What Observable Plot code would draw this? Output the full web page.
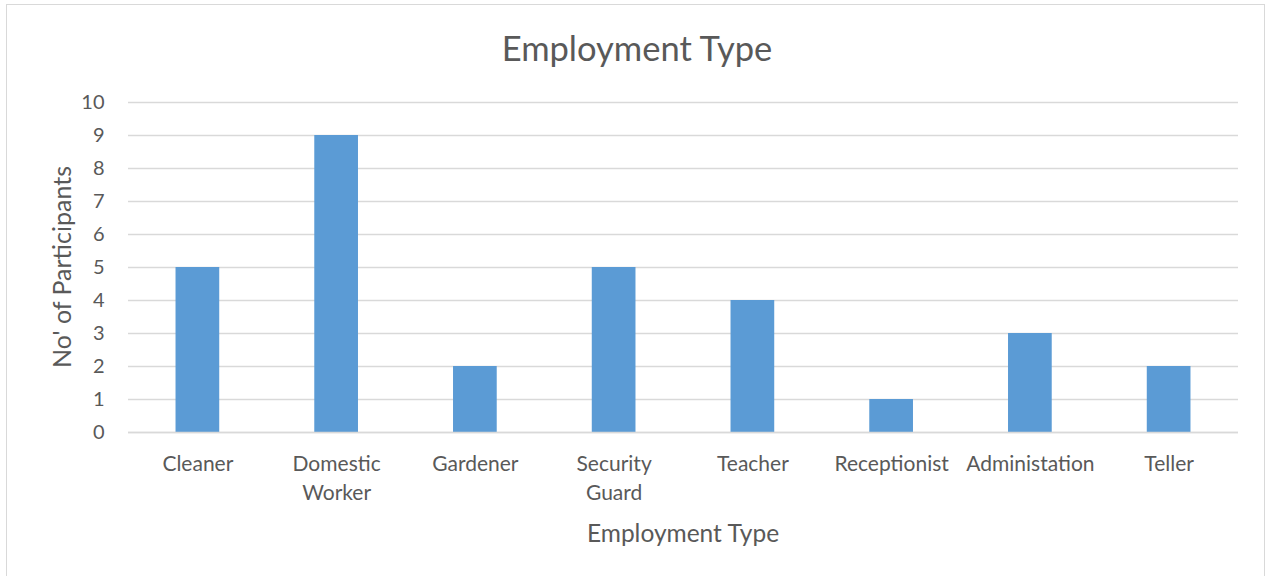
<!DOCTYPE html>
<html>
<head>
<meta charset="utf-8">
<script src="https://cdn.jsdelivr.net/npm/d3@7"></script>
<script src="https://cdn.jsdelivr.net/npm/@observablehq/plot@0.6"></script>
<style>
  html, body { margin: 0; padding: 0; background: #fff; }
  #wrap { position: relative; width: 1268px; height: 576px; font-family: Lato, "Noto Sans", sans-serif; color: #595959; }
  #frame { position: absolute; left: 6px; top: 4px; width: 1259px; height: 580px; border: 1.5px solid #D9D9D9; box-sizing: border-box; }
  #title { position: absolute; left: 0; width: 1274px; top: 28px; text-align: center; font-size: 34.5px; line-height: 40px; }
  #ylab { position: absolute; left: 61px; top: 267px; transform: translate(-50%, -50%) rotate(-90deg); font-size: 25px; white-space: nowrap; }
  #xlab { position: absolute; left: 683px; top: 532px; transform: translate(-50%, -50%); font-size: 24.5px; white-space: nowrap; }
  #chart { position: absolute; left: 0; top: 0; }
</style>
</head>
<body>
<div id="wrap">
  <div id="frame"></div>
  <div id="chart"></div>
  <div id="title">Employment Type</div>
  <div id="ylab">No' of Participants</div>
  <div id="xlab">Employment Type</div>
</div>
<script>
const categories = ["Cleaner", "Domestic\nWorker", "Gardener", "Security\nGuard", "Teacher", "Receptionist", "Administation", "Teller"];
const participants = [5, 9, 2, 5, 4, 1, 3, 2];
const yTicks = [0, 1, 2, 3, 4, 5, 6, 7, 8, 9, 10];

const data = categories.map((c, i) => ({ category: c, value: participants[i] }));

const chart = Plot.plot({
  width: 1268,
  height: 576,
  marginLeft: 128,
  marginRight: 30,
  marginTop: 102,
  marginBottom: 144,
  style: { fontFamily: "Lato, 'Noto Sans', sans-serif", color: "#595959", background: "transparent", overflow: "visible" },
  x: { domain: categories, paddingInner: 0.685, paddingOuter: 0.3425, round: false, label: null },
  y: { domain: [0, 10], label: null },
  marks: [
    Plot.gridY(yTicks, { stroke: "#D9D9D9", strokeOpacity: 1, strokeWidth: 1.3 }),
    Plot.barY(data, { x: "category", y: "value", fill: "#5B9BD5" }),
    Plot.ruleY([0], { stroke: "#D9D9D9", strokeWidth: 1.5 }),
    Plot.axisY(yTicks, { tickSize: 0, tickPadding: 24, fontSize: 20, fill: "#595959", label: null }),
    Plot.axisX({ tickSize: 0, tickPadding: 18, fontSize: 21, fill: "#595959", lineHeight: 1.38, label: null })
  ]
});
document.getElementById("chart").appendChild(chart);
</script>
</body>
</html>
